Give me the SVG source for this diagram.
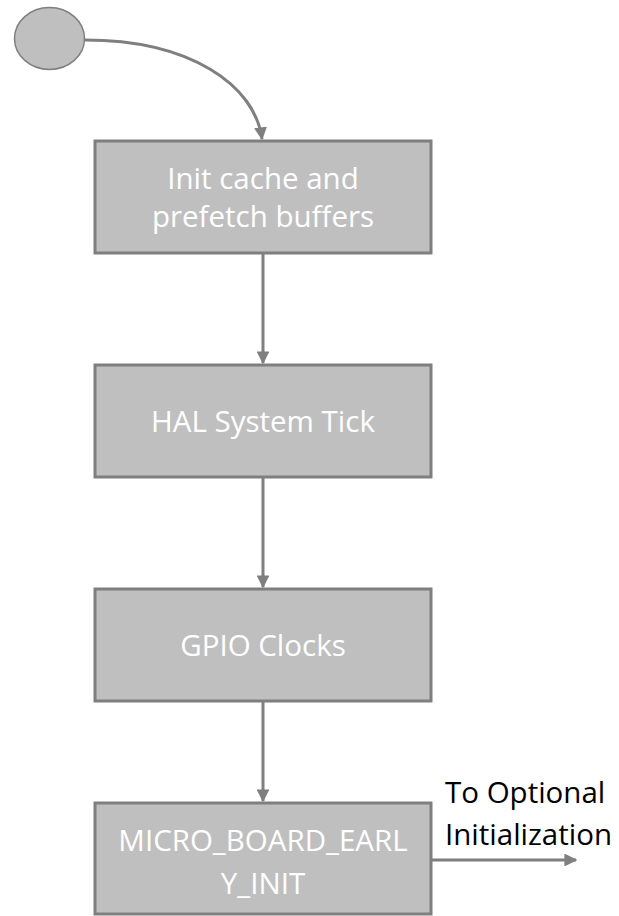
<svg xmlns="http://www.w3.org/2000/svg" width="619" height="916" viewBox="0 0 619 916">
<style>
.box{fill:#bfbfbf;stroke:#7f7f7f;stroke-width:3}
.t{font-family:"Open Sans","Liberation Sans",sans-serif;font-size:29.5px;fill:#ffffff;text-anchor:middle}
.lbl{font-family:"Open Sans","Liberation Sans",sans-serif;font-size:29.5px;fill:#000000}
.c{fill:none;stroke:#7f7f7f;stroke-width:3}
</style>
<defs>
<marker id="ah" viewBox="0 0 10 10" refX="9" refY="5" markerWidth="4.3" markerHeight="4.3" orient="auto" markerUnits="strokeWidth">
<path d="M0,0 L10,5 L0,10 z" fill="#7f7f7f"/>
</marker>
</defs>
<g id="start"><ellipse cx="49.5" cy="38.5" rx="35" ry="31" fill="#bfbfbf" stroke="#7f7f7f" stroke-width="1.5"/></g>
<g id="n1"><rect class="box" x="95" y="141" width="336" height="112"/>
<text class="t" x="263" y="189">Init cache and</text>
<text class="t" x="263" y="227">prefetch buffers</text></g>
<g id="n2"><rect class="box" x="95" y="365" width="336" height="112"/>
<text class="t" x="263" y="432">HAL System Tick</text></g>
<g id="n3"><rect class="box" x="95" y="589" width="336" height="112"/>
<text class="t" x="263" y="656">GPIO Clocks</text></g>
<g id="n4"><rect class="box" x="95" y="803" width="336" height="111"/>
<text class="t" x="263" y="851">MICRO_BOARD_EARL</text>
<text class="t" x="263" y="894">Y_INIT</text></g>
<g id="label"><text class="lbl" x="445" y="803">To Optional</text>
<text class="lbl" x="445" y="845">Initialization</text></g>
<g id="connectors">
<path class="c" d="M85,40 C190,40 255,85 262,139" marker-end="url(#ah)"/>
<path class="c" d="M263,254 L263,363" marker-end="url(#ah)"/>
<path class="c" d="M263,478 L263,587" marker-end="url(#ah)"/>
<path class="c" d="M263,702 L263,801" marker-end="url(#ah)"/>
<path class="c" d="M432,860 L576,860" marker-end="url(#ah)"/>
</g>
</svg>
